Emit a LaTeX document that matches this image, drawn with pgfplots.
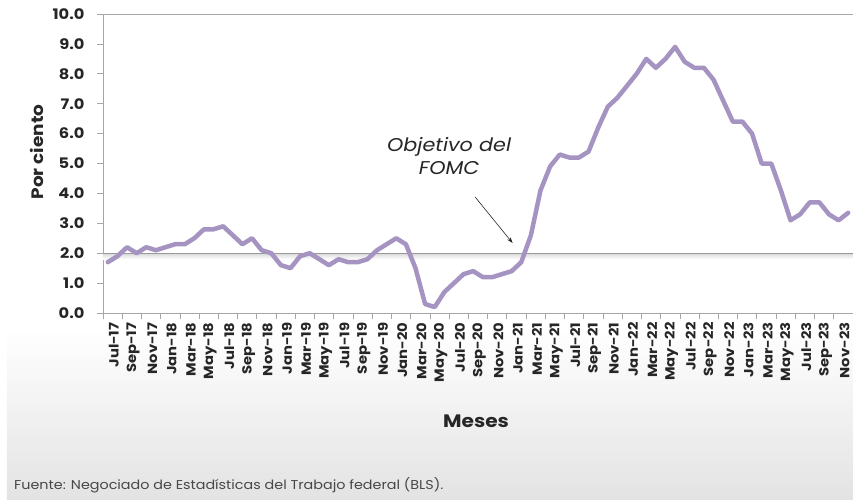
\documentclass[border=0pt]{standalone}
\usepackage{fontspec}
\setmainfont{Poppins}
\newfontfamily\widefont[FakeStretch=1.12]{Poppins}
\usepackage{pgfplots}
\pgfplotsset{compat=1.18}
\usepackage{pgfplotstable}
\usetikzlibrary{arrows.meta}
\definecolor{cLine}{HTML}{A593C2}
\definecolor{cAxis}{HTML}{A6A6A6}
\definecolor{cText}{HTML}{262626}

% inflacion anual, Jul-17 (idx 0) a Dic-23 (idx 77)
\pgfplotstableread{
idx val
0 1.7
1 1.9
2 2.2
3 2.0
4 2.2
5 2.1
6 2.2
7 2.3
8 2.3
9 2.5
10 2.8
11 2.8
12 2.9
13 2.6
14 2.3
15 2.5
16 2.1
17 2.0
18 1.6
19 1.5
20 1.9
21 2.0
22 1.8
23 1.6
24 1.8
25 1.7
26 1.7
27 1.8
28 2.1
29 2.3
30 2.5
31 2.3
32 1.5
33 0.3
34 0.2
35 0.7
36 1.0
37 1.3
38 1.4
39 1.2
40 1.2
41 1.3
42 1.4
43 1.7
44 2.6
45 4.1
46 4.9
47 5.3
48 5.2
49 5.2
50 5.4
51 6.2
52 6.9
53 7.2
54 7.6
55 8.0
56 8.5
57 8.2
58 8.5
59 8.9
60 8.4
61 8.2
62 8.2
63 7.8
64 7.1
65 6.4
66 6.4
67 6.0
68 5.0
69 5.0
70 4.1
71 3.1
72 3.3
73 3.7
74 3.7
75 3.3
76 3.1
77 3.35
}\cpidata

\begin{document}
\begin{tikzpicture}[x=1pt,y=1pt]
\useasboundingbox (-103,-186) rectangle (750,313);
\shade[top color=white, bottom color=gray!22] (-96,-186) rectangle (750,-15);
\begin{axis}[
  scale only axis, width=750pt, height=299pt,
  xmin=-0.5, xmax=77.5, ymin=0, ymax=10,
  axis lines*=left,
  axis line style={cAxis, line width=0.8pt, -},
  tick style={cAxis, line width=0.8pt},
  tick align=outside,
  major tick length=6pt, minor tick length=6pt,
  ytick={0,1,...,10},
  yticklabel={\pgfmathprintnumber[fixed,fixed zerofill,precision=1]{\tick}},
  yticklabel style={font=\widefont\bfseries\fontsize{14.5}{16}\selectfont, text=cText, xshift=-9pt},
  xtick={0,2,...,76},
  xticklabels={Jul-17,Sep-17,Nov-17,Jan-18,Mar-18,May-18,Jul-18,Sep-18,Nov-18,
    Jan-19,Mar-19,May-19,Jul-19,Sep-19,Nov-19,Jan-20,Mar-20,May-20,Jul-20,Sep-20,Nov-20,
    Jan-21,Mar-21,May-21,Jul-21,Sep-21,Nov-21,Jan-22,Mar-22,May-22,Jul-22,Sep-22,Nov-22,
    Jan-23,Mar-23,May-23,Jul-23,Sep-23,Nov-23},
  minor xtick={-0.5,1.5,...,77.5},
  every major x tick/.append style={draw=none},
  xticklabel style={rotate=90, anchor=east, font=\widefont\bfseries\fontsize{13.2}{14}\selectfont,
    text=cText, yshift=-6pt},
  /pgf/number format/assume math mode=true,
  clip=false,
]
\shade[top color=gray!30, bottom color=white] (axis cs:-0.5,2) rectangle (axis cs:77.5,1.8);
\addplot[gray!80, line width=0.8pt] coordinates {(-0.5,2) (77.5,2)};
\draw[cAxis, line width=0.8pt] (axis cs:-0.5,10) -- (axis cs:77.5,10);
\addplot[cLine, line width=4.5pt, line join=round, line cap=round] table[x=idx,y=val]{\cpidata};
\node[font=\widefont\itshape\fontsize{18.5}{23}\selectfont, align=center, text=cText]
  at (axis cs:35.5,5.25) {Objetivo del\\FOMC};
\draw[-{Stealth[length=6pt,width=4pt]}, line width=0.6pt, cText]
  (axis cs:38.2,3.88) -- (axis cs:42.1,2.34);
\end{axis}
\node[rotate=90, font=\widefont\bfseries\fontsize{16.5}{18}\selectfont, text=cText] at (-66,161) {Por ciento};
\node[font=\widefont\bfseries\fontsize{18}{20}\selectfont, text=cText] at (373,-108) {Meses};
\node[anchor=west, font=\widefont\fontsize{12.8}{14}\selectfont, text=cText!85, inner sep=0pt] at (-89,-172)
  {Fuente: Negociado de Estadísticas del Trabajo federal (BLS).};
\end{tikzpicture}
\end{document}
